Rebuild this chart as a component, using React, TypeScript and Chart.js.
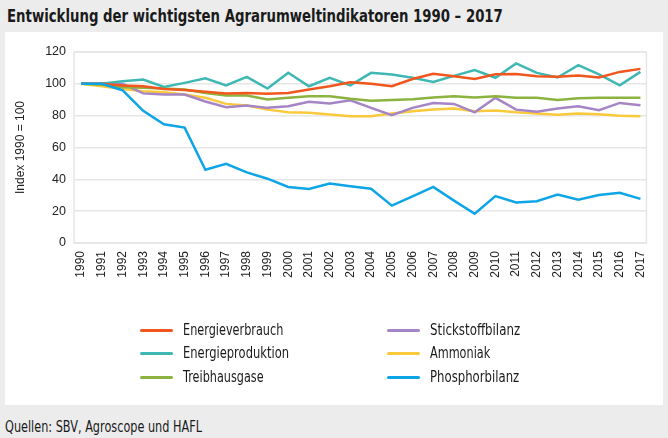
import React, { useEffect, useLayoutEffect, useRef } from "react";
import { Chart, registerables } from "chart.js";

Chart.register(...registerables);

const years = [1990, 1991, 1992, 1993, 1994, 1995, 1996, 1997, 1998, 1999, 2000, 2001, 2002, 2003, 2004, 2005, 2006, 2007, 2008, 2009, 2010, 2011, 2012, 2013, 2014, 2015, 2016, 2017];

const energieverbrauch = [100, 100, 99, 98.5, 96.8, 96.2, 95, 94, 94.3, 93.7, 94.3, 96.4, 98.5, 101, 100, 98.5, 103, 106.3, 104.8, 103, 106, 106.2, 104.8, 104.4, 105.2, 104, 107.5, 109.4];
const energieproduktion = [100, 100, 101.6, 102.7, 98, 100.6, 103.5, 99, 104.4, 97, 107, 98.5, 103.8, 99, 106.9, 105.8, 103.8, 101.2, 105, 108.6, 103.8, 112.8, 106.9, 104, 111.7, 106, 99.1, 107.5];
const treibhausgase = [100, 99.5, 97.9, 97.5, 97, 96.4, 94.3, 92.6, 92.6, 90.1, 91.2, 92.2, 92.2, 90.6, 89.3, 89.9, 90.3, 91.4, 92.2, 91.4, 92.2, 91.2, 91.2, 89.9, 90.9, 91.2, 91.2, 91.2];
const stickstoffbilanz = [100, 100, 100, 94, 93.3, 93.3, 88.9, 85.3, 86.4, 84.9, 85.9, 88.7, 87.6, 89.7, 84.9, 80.3, 84.9, 88, 87.4, 82.1, 91.2, 83.8, 82.4, 84.5, 85.9, 83.4, 88, 86.5];
const ammoniak = [100, 98.5, 96.8, 95.4, 94.7, 93.3, 91.2, 87.4, 86.4, 83.8, 82.1, 81.8, 80.7, 79.6, 79.6, 81.3, 82.8, 83.8, 84.5, 82.8, 83.2, 82.1, 81.3, 80.5, 81.3, 80.9, 79.9, 79.6];
const phosphorbilanz = [100, 100, 96, 83, 74.6, 72.5, 46, 49.7, 44.4, 40.4, 35.2, 34, 37.3, 35.6, 34.1, 23.5, 29.3, 35.2, 26.6, 18.4, 29.5, 25.5, 26.2, 30.4, 27.2, 30.2, 31.6, 27.7];

const yTicks = [0, 20, 40, 60, 80, 100, 120];

const seriesNames = ["Energieverbrauch", "Energieproduktion", "Treibhausgase", "Stickstoffbilanz", "Ammoniak", "Phosphorbilanz"];
const seriesColors = ["#f0561d", "#3fb7b3", "#8cb33f", "#a585c6", "#fbc93c", "#0ea5e6"];
const seriesData = [energieverbrauch, energieproduktion, treibhausgase, stickstoffbilanz, ammoniak, phosphorbilanz];
const legendTextWidths = [100, 106, 81, 90, 60, 89];

const narrow = '"DejaVu Sans", sans-serif';
const sans = '"Liberation Sans", Arial, sans-serif';

const frame = {
  id: "frame",
  afterDraw(chart: any) {
    const { ctx, chartArea } = chart;
    ctx.save();
    ctx.strokeStyle = "#e6e6e6";
    ctx.lineWidth = 1.5;
    ctx.strokeRect(chartArea.left, chartArea.top, chartArea.right - chartArea.left, chartArea.bottom - chartArea.top);
    ctx.restore();
  },
};

function FitText(props: { text: string; target: number; style: React.CSSProperties }) {
  const el = useRef<HTMLDivElement>(null);
  useLayoutEffect(() => {
    const d = el.current;
    if (!d) return;
    const w = d.offsetWidth;
    if (w > 0) d.style.transform = `scaleX(${props.target / w})`;
  }, [props.text, props.target]);
  return (
    <div ref={el} style={{ position: "absolute", whiteSpace: "nowrap", transformOrigin: "0 50%", ...props.style }}>
      {props.text}
    </div>
  );
}

export default function App() {
  const ref = useRef<HTMLCanvasElement>(null);
  useEffect(() => {
    if (!ref.current) return;
    const order = [5, 0, 1, 2, 3, 4];
    const chart = new Chart(ref.current, {
      type: "line",
      data: {
        datasets: order.map((i) => ({
          label: seriesNames[i],
          data: years.map((y, k) => ({ x: y, y: seriesData[i][k] })),
          borderColor: seriesColors[i],
          backgroundColor: seriesColors[i],
          borderWidth: 2.5,
          pointRadius: 0,
          tension: 0,
        })),
      },
      options: {
        animation: false,
        responsive: false,
        maintainAspectRatio: false,
        layout: { padding: { left: 0, right: 14, top: 19, bottom: 30 } },
        plugins: { legend: { display: false }, tooltip: { enabled: false } },
        scales: {
          x: {
            type: "linear",
            min: 1989.66,
            max: 2017.29,
            afterBuildTicks: (scale: any) => {
              scale.ticks = years.map((v) => ({ value: v }));
            },
            afterFit: (scale: any) => {
              scale.height = 60;
            },
            grid: { display: false, drawTicks: false },
            border: { display: false },
            ticks: {
              autoSkip: false,
              minRotation: 90,
              maxRotation: 90,
              padding: 8,
              color: "#222",
              font: { family: sans, size: 12 },
              callback: (v: any) => String(v),
            },
          },
          y: {
            min: 0,
            max: 120,
            afterBuildTicks: (scale: any) => {
              scale.ticks = yTicks.map((v) => ({ value: v }));
            },
            afterFit: (scale: any) => {
              scale.width = 69;
            },
            grid: { color: "#e6e6e6", lineWidth: 1.5, drawTicks: false },
            border: { display: false },
            ticks: {
              padding: 8,
              color: "#222",
              font: { family: sans, size: 12.5 },
              callback: (v: any) => String(v),
            },
            title: {
              display: true,
              text: "Index 1990 = 100",
              color: "#222",
              padding: 8,
              font: { family: sans, size: 12 },
            },
          },
        },
      },
      plugins: [frame],
    });
    return () => chart.destroy();
  }, []);

  const legendLeft = [0, 1, 2];
  const legendRight = [3, 4, 5];
  const rowsY = [330, 353, 377];

  return (
    <div style={{ position: "fixed", left: 0, top: 0, width: 668, height: 438, background: "#ececec", overflow: "hidden" }}>
      <FitText
        text="Entwicklung der wichtigsten Agrarumweltindikatoren 1990 – 2017"
        target={496}
        style={{ left: 7, top: 6, lineHeight: "20px", fontFamily: narrow, fontSize: 18, fontWeight: 700, color: "#1a1a1a" }}
      />
      <div style={{ position: "absolute", left: 5, top: 32, width: 658, height: 373, background: "#ffffff" }}>
        <canvas ref={ref} width={658} height={300} style={{ position: "absolute", left: 0, top: 1, width: 658, height: 300 }} />
      </div>
      {[legendLeft, legendRight].map((col, ci) =>
        col.map((si, ri) => (
          <React.Fragment key={si}>
            <div style={{ position: "absolute", left: ci === 0 ? 140 : 387, top: rowsY[ri] - 1.5, width: 33, height: 3, borderRadius: 1.5, background: seriesColors[si] }} />
            <FitText
              text={seriesNames[si]}
              target={legendTextWidths[si]}
              style={{ left: ci === 0 ? 183 : 430, top: rowsY[ri] - 9, height: 18, lineHeight: "18px", fontFamily: narrow, fontSize: 15, color: "#1a1a1a" }}
            />
          </React.Fragment>
        ))
      )}
      <FitText
        text="Quellen: SBV, Agroscope und HAFL"
        target={197}
        style={{ left: 5, top: 418, lineHeight: "18px", fontFamily: narrow, fontSize: 15, color: "#1a1a1a" }}
      />
    </div>
  );
}
